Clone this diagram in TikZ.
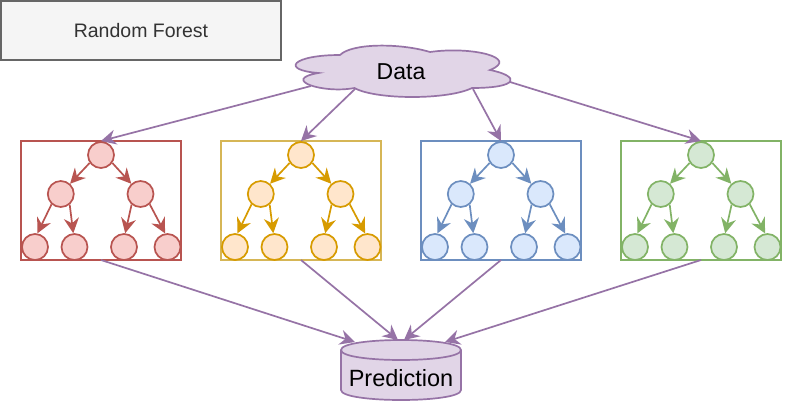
\documentclass[tikz,border=0pt]{standalone}
\usepackage{fontspec}
\setmainfont{Liberation Sans}
\usetikzlibrary{arrows.meta}
\definecolor{rfS}{HTML}{666666}
\definecolor{rfF}{HTML}{F5F5F5}
\definecolor{rfT}{HTML}{333333}
\definecolor{purS}{HTML}{9673A6}
\definecolor{purF}{HTML}{E1D5E7}
\definecolor{redS}{HTML}{B85450}
\definecolor{redF}{HTML}{F8CECC}
\definecolor{yelS}{HTML}{D6B656}
\definecolor{ornS}{HTML}{D79B00}
\definecolor{ornF}{HTML}{FFE6CC}
\definecolor{bluS}{HTML}{6C8EBF}
\definecolor{bluF}{HTML}{DAE8FC}
\definecolor{grnS}{HTML}{82B366}
\definecolor{grnF}{HTML}{D5E8D4}
\begin{document}
\begin{tikzpicture}[x=1pt,y=-1pt,
  tnode/.style={circle, draw, line width=1.7pt, minimum size=26pt, inner sep=0pt},
  tbox/.style={draw, line width=1.7pt, minimum width=160pt, minimum height=119pt, inner sep=0pt, outer sep=0pt},
  tarrow/.style={line width=1.7pt, -{Stealth[length=15pt,width=15pt,inset=5pt]}},
  parrow/.style={line width=1.7pt, color=purS, -{Stealth[length=15pt,width=15pt,inset=5pt]}},
  shapeline/.style={line width=1.7pt, draw=purS, fill=purF}
]
\useasboundingbox (0,0) rectangle (786,402);
\fill[white] (0,0) rectangle (786,402);

% Random Forest label box
\node[draw=rfS, fill=rfF, line width=1.7pt, minimum width=280pt, minimum height=59pt,
      inner sep=0pt, outer sep=0pt, text=rfT, font=\fontsize{19.5}{23}\selectfont]
      (rf) at (141,30.5) {Random Forest};

% Data cloud
\path[shapeline] (340,55)
  .. controls (292,55) and (280,70) .. (318.4,73)
  .. controls (280,79.6) and (323.2,94) .. (354.4,88)
  .. controls (376,100) and (448,100) .. (472,88)
  .. controls (520,88) and (520,76) .. (490,70)
  .. controls (520,58) and (472,46) .. (430,52)
  .. controls (400,43) and (352,43) .. (340,55) -- cycle;
\node[inner sep=0pt, font=\fontsize{23}{27}\selectfont] (data) at (401,71.3) {Data};
\coordinate (c1) at (311,86);
\coordinate (c2) at (355,89);
\coordinate (c3) at (473,89);
\coordinate (c4) at (510,82);

% Prediction cylinder
\path[shapeline] (341,350) .. controls (341,336.67) and (461,336.67) .. (461,350)
  -- (461,390) .. controls (461,403.33) and (341,403.33) .. (341,390) -- cycle;
\draw[line width=1.7pt, draw=purS] (341,350) .. controls (341,363.33) and (461,363.33) .. (461,350);
\node[inner sep=0pt, font=\fontsize{23.5}{28}\selectfont] (pred) at (401,378.3) {Prediction};
\coordinate (p1) at (355,342);
\coordinate (p2) at (398,340);
\coordinate (p3) at (404,340);
\coordinate (p4) at (445,342);

% Trees
\foreach \i/\x/\bc/\nc/\nf in {1/21/redS/redS/redF,2/221/yelS/ornS/ornF,3/421/bluS/bluS/bluF,4/621/grnS/grnS/grnF}{
  \node[tbox, draw=\bc] (box\i) at (\x+80,200.5) {};
  \node[tnode, draw=\nc, fill=\nf] (r\i) at (\x+80,155) {};
  \node[tnode, draw=\nc, fill=\nf] (a\i) at (\x+39.8,194) {};
  \node[tnode, draw=\nc, fill=\nf] (b\i) at (\x+119.5,194) {};
  \node[tnode, draw=\nc, fill=\nf] (la\i) at (\x+14,247) {};
  \node[tnode, draw=\nc, fill=\nf] (lb\i) at (\x+53.5,247) {};
  \node[tnode, draw=\nc, fill=\nf] (lc\i) at (\x+103,247) {};
  \node[tnode, draw=\nc, fill=\nf] (ld\i) at (\x+146.5,247) {};
  \draw[tarrow, color=\nc] (r\i.-145) -- (a\i.48);
  \draw[tarrow, color=\nc] (r\i.-35) -- (b\i.132);
  \draw[tarrow, color=\nc] (a\i.-132) -- (la\i.80);
  \draw[tarrow, color=\nc] (a\i.-50) -- (lb\i.95);
  \draw[tarrow, color=\nc] (b\i.-130) -- (lc\i.85);
  \draw[tarrow, color=\nc] (b\i.-48) -- (ld\i.100);
}

% Data -> trees
\draw[parrow] (c1) -- (box1.north);
\draw[parrow] (c2) -- (box2.north);
\draw[parrow] (c3) -- (box3.north);
\draw[parrow] (c4) -- (box4.north);

% trees -> Prediction
\draw[parrow] (box1.south) -- (p1);
\draw[parrow] (box2.south) -- (p2);
\draw[parrow] (box3.south) -- (p3);
\draw[parrow] (box4.south) -- (p4);
\end{tikzpicture}
\end{document}
